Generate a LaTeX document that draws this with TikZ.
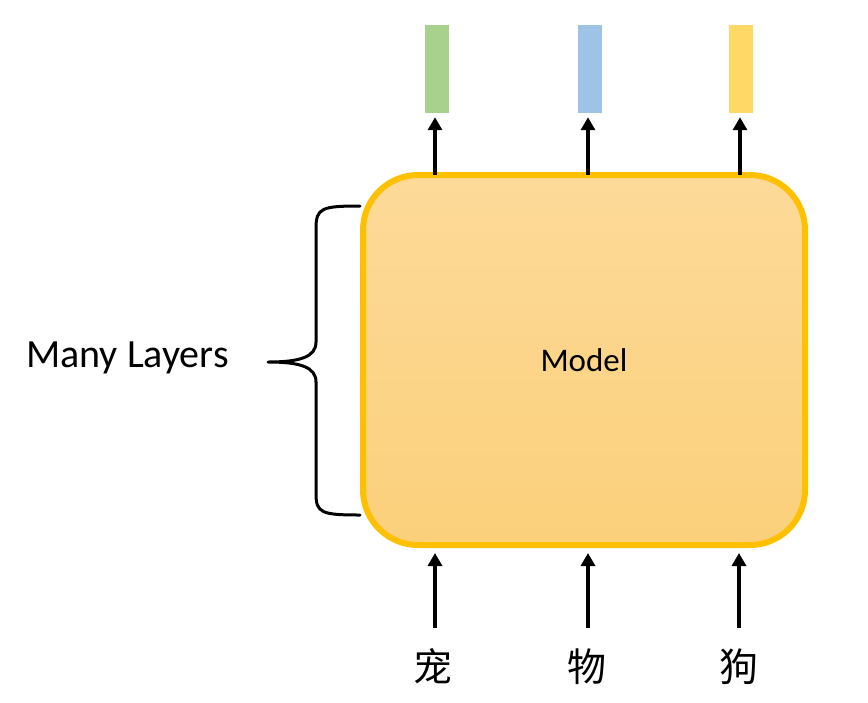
\documentclass[tikz,border=0pt]{standalone}
\usepackage{fontspec}
\setmainfont{Carlito}
\newfontfamily\cjk{Noto Sans CJK SC}
\usetikzlibrary{arrows.meta}
\definecolor{boxline}{HTML}{FFC000}
\definecolor{boxtop}{HTML}{FDDA99}
\definecolor{boxbot}{HTML}{FBD07B}
\definecolor{barg}{HTML}{A9D18E}
\definecolor{barb}{HTML}{9DC3E6}
\definecolor{bary}{HTML}{FFD966}
\tikzset{
  model/.style={draw=boxline, line width=6pt, rounded corners=55pt,
    top color=boxtop, bottom color=boxbot, minimum width=442pt, minimum height=370pt,
    font=\fontsize{33}{40}\selectfont, inner sep=0pt},
  bar/.style={minimum width=24pt, minimum height=88pt, inner sep=0pt},
  arr/.style={line width=3.5pt, -{Triangle[width=14pt,length=13pt]}},
  word/.style={font=\cjk\fontsize{39}{44}\selectfont, inner sep=0pt,
    text height=34pt, text depth=5pt},
  brace/.style={line width=3pt, line cap=round, line join=round}
}
\begin{document}
\begin{tikzpicture}[x=1pt,y=-1pt]
\useasboundingbox (0,0) rectangle (868,702);
\node[model] (m) at (584,360) {Model};
\node[bar, fill=barg] (b1) at (437,69) {};
\node[bar, fill=barb] (b2) at (590,69) {};
\node[bar, fill=bary] (b3) at (741,69) {};
\coordinate (t1) at (435,175);
\coordinate (t2) at (588,175);
\coordinate (t3) at (740,175);
\draw[arr, shorten >=4pt] (t1) -- (t1 |- b1.south);
\draw[arr, shorten >=4pt] (t2) -- (t2 |- b2.south);
\draw[arr, shorten >=4pt] (t3) -- (t3 |- b3.south);
\node[word] (w1) at (433,667) {宠};
\node[word] (w2) at (587,667) {物};
\node[word] (w3) at (739,667) {狗};
\draw[arr, shorten <=19.5pt, shorten >=5pt] (w1.north -| 435,0) -- (435,0 |- m.south);
\draw[arr, shorten <=19.5pt, shorten >=5pt] (w2.north -| 588,0) -- (588,0 |- m.south);
\draw[arr, shorten <=19.5pt, shorten >=5pt] (w3.north) -- (w3.north |- m.south);
\coordinate (bt) at (360,206);
\coordinate (bb) at (360,515);
\coordinate (tip) at (268,362);
\draw[brace] (bt) .. controls (322,206) and (316,208) .. (316,228) -- (316,342)
  .. controls (316,357) and (300,362) .. (tip)
  .. controls (300,362) and (316,367) .. (316,382) -- (316,494)
  .. controls (316,513) and (322,515) .. (bb);
\node[font=\fontsize{40}{46}\selectfont, anchor=east, inner sep=0pt] (lab) at (229,358) {Many Layers};
\end{tikzpicture}
\end{document}
